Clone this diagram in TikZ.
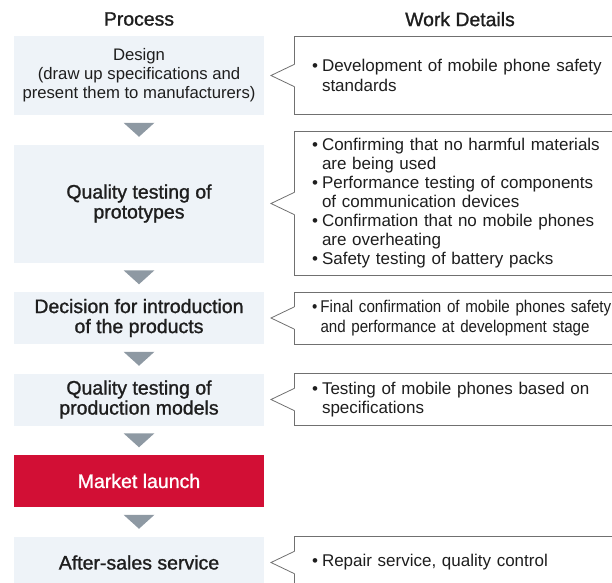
\documentclass[tikz,border=0pt]{standalone}
\usepackage{fontspec}
\setmainfont{Liberation Sans}
\newfontfamily\medfont[FakeBold=1.2]{Liberation Sans}
\newfontfamily\condfont[FakeStretch=0.89]{Liberation Sans}
\usetikzlibrary{positioning,calc}

\definecolor{boxfill}{HTML}{EEF3F8}
\definecolor{launchred}{HTML}{D20F35}
\definecolor{arrowgray}{HTML}{8E99A3}
\definecolor{linegray}{HTML}{707070}
\definecolor{ink}{HTML}{1E1E1E}

\newcommand{\bul}{\makebox[10pt][l]{\textbullet}}
\newcommand{\ind}{\hspace*{10pt}}
\newcommand{\cbul}{\makebox[8.5pt][l]{\textbullet}}
\newcommand{\cind}{\hspace*{8.5pt}}

\begin{document}
\begin{tikzpicture}[x=1pt, y=1pt,
    process/.style={fill=boxfill, minimum width=250pt, align=center, inner sep=0pt,
      outer sep=0pt, text=ink, font=\medfont\fontsize{19.5pt}{20pt}\selectfont},
    launch/.style={process, fill=launchred, text=white},
    detail/.style={draw=linegray, line width=0.8pt, fill=white, minimum width=332pt,
      text width=296pt, inner xsep=18pt, inner ysep=0pt, outer sep=0pt, align=left,
      text=ink, font=\fontsize{17pt}{19.5pt}\selectfont},
    head/.style={inner sep=0pt, text=ink, font=\medfont\fontsize{19.4pt}{20pt}\selectfont},
    node distance=29.5pt]
  \useasboundingbox (0,0) rectangle (612,-582);

  % process column
  \node[process, minimum height=79pt, font=\fontsize{16.7pt}{19pt}\selectfont] (p1) at (139,-75.5)
    {Design\\(draw up specifications and\\present them to manufacturers)};
  \node[process, minimum height=118pt, below=of p1] (p2) {Quality testing of\\prototypes};
  \node[process, minimum height=52pt, below=of p2] (p3) {Decision for introduction\\of the products};
  \node[process, minimum height=52pt, below=of p3] (p4) {Quality testing of\\production models};
  \node[launch, minimum height=52pt, below=of p4] (p5) {Market launch};
  \node[process, minimum height=52pt, below=of p5] (p6) {After-sales service};

  % work details column
  \node[detail, minimum height=78pt, right=30pt of p1] (w1)
    {\bul Development of mobile phone safety\\\ind standards};
  \node[detail, minimum height=144pt, right=30pt of p2, font=\fontsize{17pt}{19pt}\selectfont] (w2)
    {\bul Confirming that no harmful materials\\\ind are being used\\
     \bul Performance testing of components\\\ind of communication devices\\
     \bul Confirmation that no mobile phones\\\ind are overheating\\
     \bul Safety testing of battery packs};
  \node[detail, minimum height=52pt, text width=312pt, right=30pt of p3,
    font=\condfont\fontsize{17pt}{19.5pt}\selectfont] (w3)
    {\cbul Final confirmation of mobile phones safety\\\cind and performance at development stage};
  \node[detail, minimum height=52pt, right=30pt of p4] (w4)
    {\bul Testing of mobile phones based on\\\ind specifications};
  \node[detail, minimum height=52pt, right=30pt of p6] (w5)
    {\bul Repair service, quality control};

  % headings
  \node[head, above=10pt of p1] (hp) {Process};
  \node[head, above=10pt of w1.north -| p1.east, xshift=196pt] (hw) {Work Details};

  % arrows between steps
  \foreach \a/\b in {p1/p2,p2/p3,p3/p4,p4/p5,p5/p6} {
    \coordinate (m) at ($(\a.south)!0.5!(\b.north)$);
    \fill[arrowgray] ($(m)+(-15.5,7)$) -- ($(m)+(15.5,7)$) -- ($(m)+(0,-7)$) -- cycle;
  }

  % callout notches
  \foreach \w in {w1,w2,w3,w4,w5} {
    \fill[white] ($(\w.west)+(1,11)$) -- ($(\w.west)+(-23,0)$) -- ($(\w.west)+(1,-11)$) -- cycle;
    \draw[linegray, line width=0.8pt] ($(\w.west)+(0,11)$) -- ($(\w.west)+(-23,0)$) -- ($(\w.west)+(0,-11)$);
  }
\end{tikzpicture}
\end{document}
